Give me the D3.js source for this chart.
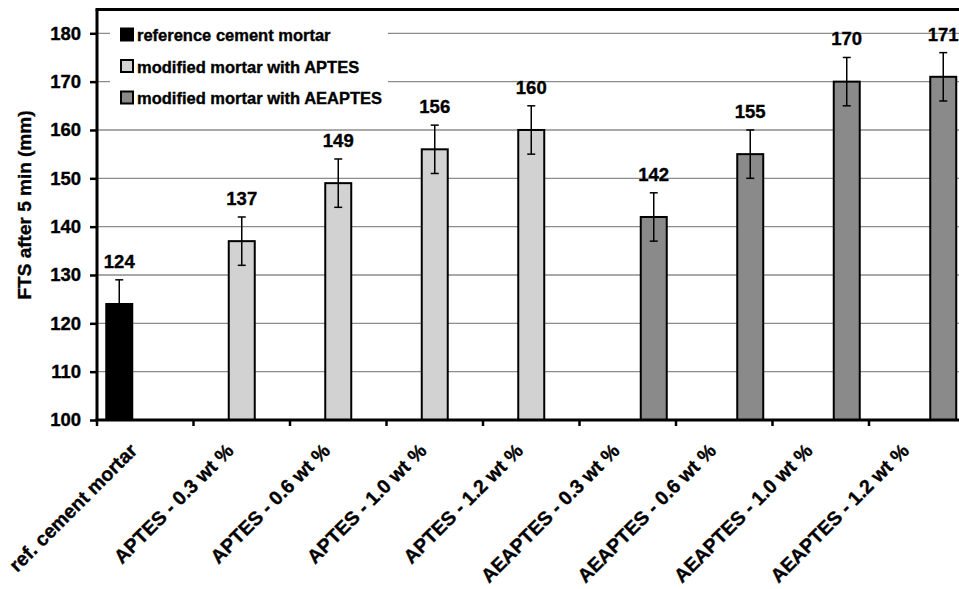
<!DOCTYPE html>
<html>
<head>
<meta charset="utf-8">
<script src="https://cdn.jsdelivr.net/npm/d3@7"></script>
<style>
  html, body { margin: 0; padding: 0; background: #fff; }
  svg { display: block; font-family: "Liberation Sans", Arial, Helvetica, sans-serif; font-weight: bold; }
  svg text { stroke: #000; stroke-width: 0.35px; paint-order: stroke; }
</style>
</head>
<body>
<svg id="chart" width="959" height="589"></svg>
<script>
// Flow table spread after 5 minutes for each mortar mix
const categories = [
  "ref. cement mortar",
  "APTES - 0.3 wt %", "APTES - 0.6 wt %", "APTES - 1.0 wt %", "APTES - 1.2 wt %",
  "AEAPTES - 0.3 wt %", "AEAPTES - 0.6 wt %", "AEAPTES - 1.0 wt %", "AEAPTES - 1.2 wt %"
];
const seriesNames = [
  "reference cement mortar",
  "modified mortar with APTES",
  "modified mortar with AEAPTES"
];
const seriesColors = ["#000000", "#d2d2d2", "#8a8a8a"];
// one value per category for each series (null where the series has no bar)
const refValues     = [124, null, null, null, null, null, null, null, null];
const aptesValues   = [null, 137, 149, 156, 160, null, null, null, null];
const aeaptesValues = [null, null, null, null, null, 142, 155, 170, 171];
// standard deviation shown as error bars
const errorValues   = [5, 5, 5, 5, 5, 5, 5, 5, 5];
const yTicks = [100, 110, 120, 130, 140, 150, 160, 170, 180];
const yTitle = "FTS after 5 min (mm)";

const seriesValues = [refValues, aptesValues, aeaptesValues];

const svg = d3.select("#chart");

const plotLeft = 97, plotRight = 965.5, plotTop = 9.5, plotBottom = 420;

const x0 = d3.scaleBand().domain(categories).range([plotLeft, plotRight]).paddingInner(0).paddingOuter(0);
const x1 = d3.scaleBand().domain(seriesNames).range([0, x0.bandwidth()]).paddingInner(0).paddingOuter(0.356);
const y = d3.scaleLinear().domain([100, 180]).range([plotBottom, 33.3]);

// gridlines
svg.append("g").selectAll("line").data(yTicks.filter(t => t > 100)).join("line")
  .attr("x1", plotLeft).attr("x2", 959)
  .attr("y1", d => y(d)).attr("y2", d => y(d))
  .attr("stroke", "#8c8c8c").attr("stroke-width", 1.3);

// bars
const bars = [];
seriesValues.forEach((vals, s) => {
  vals.forEach((v, i) => {
    if (v != null) bars.push({ cat: categories[i], series: seriesNames[s], s, v, err: errorValues[i] });
  });
});

const barG = svg.append("g");
barG.selectAll("rect").data(bars).join("rect")
  .attr("x", d => x0(d.cat) + x1(d.series))
  .attr("y", d => y(d.v))
  .attr("width", x1.bandwidth())
  .attr("height", d => y(100) - y(d.v))
  .attr("fill", d => seriesColors[d.s])
  .attr("stroke", "#000").attr("stroke-width", 2);

// error bars
const errG = svg.append("g").attr("stroke", "#000").attr("stroke-width", 1.5);
bars.forEach(d => {
  const cx = x0(d.cat) + x1(d.series) + x1.bandwidth() / 2;
  errG.append("line").attr("x1", cx).attr("x2", cx).attr("y1", y(d.v + d.err)).attr("y2", y(d.v - d.err));
  errG.append("line").attr("x1", cx - 4).attr("x2", cx + 4).attr("y1", y(d.v + d.err)).attr("y2", y(d.v + d.err));
  errG.append("line").attr("x1", cx - 4).attr("x2", cx + 4).attr("y1", y(d.v - d.err)).attr("y2", y(d.v - d.err));
});

// value labels
svg.append("g").selectAll("text").data(bars).join("text")
  .attr("x", d => x0(d.cat) + x1(d.series) + x1.bandwidth() / 2)
  .attr("y", d => y(d.v + d.err) - 12)
  .attr("text-anchor", "middle")
  .attr("font-size", 18.5)
  .attr("fill", "#000")
  .text(d => d.v);

// y axis
const yAxis = d3.axisLeft(y).tickValues(yTicks).tickSize(7).tickPadding(9);
const yG = svg.append("g").attr("transform", `translate(${plotLeft},0)`).call(yAxis);
yG.select(".domain").remove();
yG.selectAll(".tick line").attr("stroke", "#000").attr("stroke-width", 2.5);
yG.selectAll(".tick text").attr("font-size", 18.5).attr("font-weight", "bold")
  .attr("font-family", "Liberation Sans, Arial, sans-serif").attr("fill", "#000");

// x axis ticks at category boundaries
const xBoundaries = categories.map(c => x0(c)).concat([plotRight]);
svg.append("g").selectAll("line").data(xBoundaries).join("line")
  .attr("x1", d => d).attr("x2", d => d)
  .attr("y1", plotBottom).attr("y2", plotBottom + 6)
  .attr("stroke", "#000").attr("stroke-width", 2.5);

// category labels, rotated
svg.append("g").selectAll("text").data(categories).join("text")
  .attr("transform", d => `translate(${x0(d) + x0.bandwidth() / 2 - 7},${plotBottom + 32}) rotate(-45)`)
  .attr("text-anchor", "end")
  .attr("font-size", 19.5)
  .attr("fill", "#000")
  .text(d => d);

// plot frame: left axis, bottom axis, top border
svg.append("line").attr("x1", plotLeft).attr("x2", plotLeft).attr("y1", plotTop).attr("y2", plotBottom + 1)
  .attr("stroke", "#000").attr("stroke-width", 3);
svg.append("line").attr("x1", plotLeft - 1.5).attr("x2", 959).attr("y1", plotBottom).attr("y2", plotBottom)
  .attr("stroke", "#000").attr("stroke-width", 3);
svg.append("line").attr("x1", plotLeft - 1.5).attr("x2", 959).attr("y1", plotTop).attr("y2", plotTop)
  .attr("stroke", "#000").attr("stroke-width", 3);

// y axis title
svg.append("text")
  .attr("transform", `translate(31,205) rotate(-90)`)
  .attr("text-anchor", "middle")
  .attr("font-size", 19)
  .attr("fill", "#000")
  .text(yTitle);

// legend
const leg = svg.append("g");
leg.append("rect").attr("x", 110).attr("y", 17).attr("width", 278).attr("height", 96).attr("fill", "#fff");
const legItems = leg.selectAll("g").data(seriesNames).join("g")
  .attr("transform", (d, i) => `translate(121,${28.5 + i * 31.5})`);
legItems.append("rect").attr("x", 0).attr("y", 0).attr("width", 12).attr("height", 12)
  .attr("fill", (d, i) => seriesColors[i]).attr("stroke", "#000").attr("stroke-width", 2);
legItems.append("text").attr("x", 16).attr("y", 12.5)
  .attr("font-size", 16.5).attr("fill", "#000")
  .text(d => d);
</script>
</body>
</html>
